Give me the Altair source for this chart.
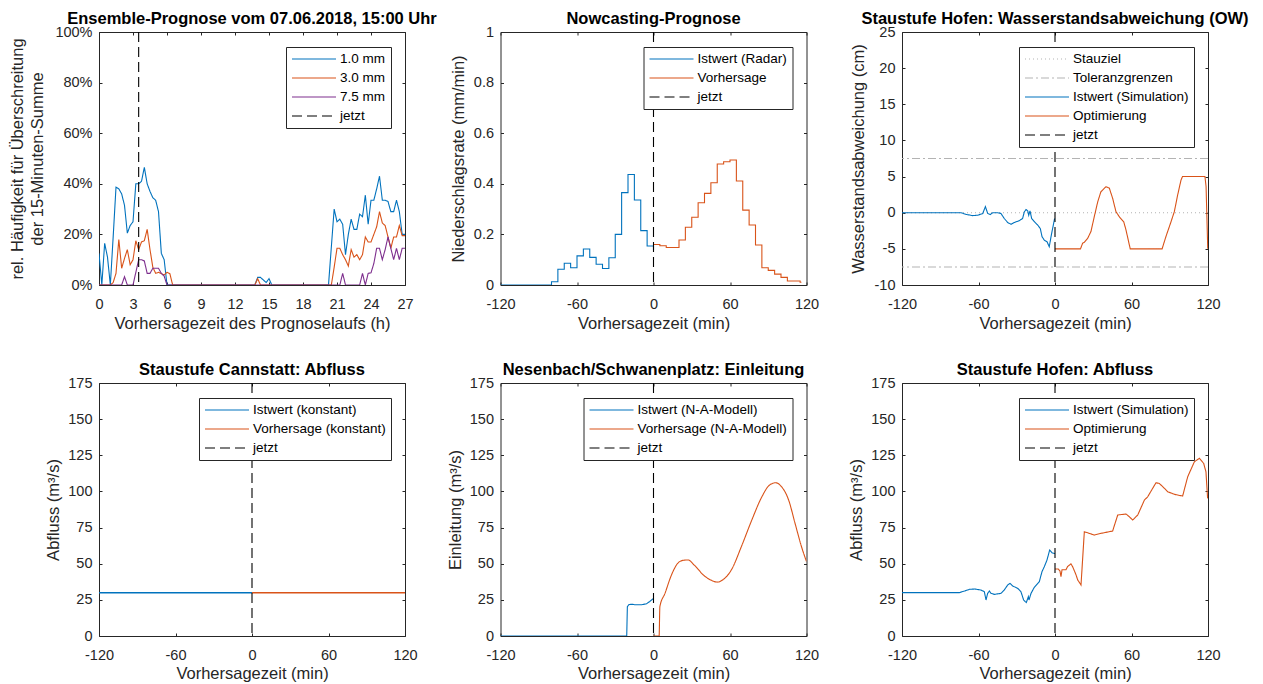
import altair as alt
import pandas as pd

FONT = "Liberation Sans"
AX = "#262626"
BLUE = "#0072BD"
ORANGE = "#D95319"
PURPLE = "#7E2F8E"
BLACK = "#000000"
GRAY = "#B3B3B3"

W, H = 306, 253

SOLID = [1, 0]
DASH = [10, 5]
DOT = [1, 3]
DASHDOT = [8, 3, 2, 3]

# ---------------- Panel 1: Ensemble-Prognose ----------------
p1_t_10 = [0, 0.25, 0.5, 0.75, 1, 1.25, 1.5, 1.75, 2, 2.25, 2.5, 2.75, 3, 3.25, 3.5, 3.75, 4, 4.25, 4.5, 4.75,
           5, 5.25, 5.5, 5.75, 6, 13.75, 14, 14.25, 14.5, 14.75, 15, 15.25,
           20.25, 20.5, 20.75, 21, 21.25, 21.5, 21.75, 22, 22.25, 22.5, 22.75, 23, 23.25, 23.5, 23.75, 24,
           24.25, 24.5, 24.75, 25, 25.25, 25.5, 25.75, 26, 26.25, 26.5, 26.75, 27]
p1_v_10 = [12.5, 0, 16.5, 11, 0, 19, 38.7, 38, 36, 31.5, 20.5, 23.5, 25, 40, 40, 41, 46.5, 40, 37, 34.5,
           33.5, 29, 12.5, 10, 0, 0, 3, 3, 2, 1, 2.5, 0,
           0, 15, 30, 25, 26, 24, 12, 20, 26, 22, 22, 28, 27, 35.5, 24, 33.5,
           33.5, 38, 43, 33.5, 33.5, 33, 29, 29, 33.5, 29, 20, 20]
p1_t_30 = [0, 1, 1.25, 1.5, 1.75, 2, 2.25, 2.5, 2.75, 3, 3.25, 3.5, 3.75, 4, 4.25, 4.5, 4.75, 5, 5.25, 5.5,
           5.75, 6, 6.25, 6.5, 13.75, 14, 14.25,
           20.5, 20.75, 21, 21.25, 21.5, 21.75, 22, 22.25, 22.5, 22.75, 23, 23.25, 23.5, 23.75, 24, 24.25,
           24.5, 24.75, 25, 25.25, 25.5, 25.75, 26, 26.25, 26.5, 26.75, 27]
p1_v_30 = [0, 0, 1, 4.6, 18, 6.6, 10.5, 14, 8, 10, 17.5, 14, 17, 17.5, 22, 14, 7, 4.6, 5, 4.5,
           4, 5, 4.5, 0, 0, 2.5, 0,
           0, 7, 14.5, 14.5, 12, 10, 7.5, 14, 11, 12, 10, 12, 19, 17, 17, 20,
           23, 29, 24.5, 23.5, 19, 14.5, 19, 19, 23.5, 19.5, 19.5]
p1_t_75 = [0, 2, 2.25, 2.5, 3, 3.25, 3.5, 3.75, 4, 4.25, 4.5, 4.75, 5, 5.25, 5.5, 5.75, 6,
           21.25, 21.5, 21.75, 23, 23.25, 23.5, 23.75, 24, 24.25, 24.5, 24.75, 25, 25.25, 25.5, 25.75,
           26, 26.25, 26.5, 26.75, 27]
p1_v_75 = [0, 0, 3.3, 0, 0, 5, 10, 10, 9.5, 4.6, 4.6, 6.6, 6.6, 6.6, 4.6, 3.5, 0,
           0, 4.6, 0, 0, 4.6, 0, 4.6, 4.8, 8.5, 14.5, 14.5, 10, 14, 19, 14.5,
           10, 14.5, 10, 14.5, 14.5]
p1_now = 3.5
p1_series = ["1.0 mm", "3.0 mm", "7.5 mm", "jetzt"]

# ---------------- Panel 2: Nowcasting ----------------
p2_t_ist = [-120, -80, -75, -70, -65, -60, -55, -50, -45, -40, -35, -30, -25, -20, -15, -10, -5, 0]
p2_v_ist = [0, 0.013, 0.062, 0.086, 0.068, 0.115, 0.142, 0.109, 0.082, 0.065, 0.108, 0.2, 0.365,
            0.437, 0.336, 0.215, 0.154, 0.138]
p2_t_vor = [0, 5, 10, 15, 20, 25, 30, 35, 40, 45, 50, 55, 60, 65, 70, 75, 80, 85, 90, 95, 100, 105,
            110, 115, 116]
p2_v_vor = [0.16, 0.155, 0.148, 0.148, 0.178, 0.228, 0.268, 0.325, 0.362, 0.404, 0.478, 0.487, 0.494,
            0.411, 0.296, 0.237, 0.158, 0.068, 0.058, 0.043, 0.03, 0.016, 0.016, 0.011, 0.011]
p2_series = ["Istwert (Radar)", "Vorhersage", "jetzt"]

# ---------------- Panel 3: Wasserstandsabweichung ----------------
p3_t_ist = [-120, -73.7, -69.8, -64.6, -60.7, -56.7, -54.6, -52.8, -50.7, -48.9, -45, -42.4, -39.8,
            -37.1, -34.5, -31.9, -28, -25.4, -24.1, -22.7, -21.4, -20.6, -19.6, -18.3, -16.2, -13.6,
            -11.5, -10.2, -8.4, -6.3, -4.5, -3.1, -1.6, -0.3]
p3_v_ist = [0, 0, -0.23, -0.4, -0.35, -0.12, 0.85, -0.1, -0.25, 0, 0, -0.1, -0.8,
            -1.35, -1.6, -1.35, -1.1, -0.8, 0.1, 0.45, 0.25, -0.35, 0.25, -0.8, -1.25, -1.7,
            -2.2, -3.3, -3.8, -4.0, -4.7, -3.3, -1.95, -0.8]
p3_t_opt = [0, 20, 21.7, 23, 25.6, 28.2, 30.8, 33.5, 36, 40, 42.6, 45.2, 47.8, 50.4, 53.9, 55.7, 59,
            84, 87, 91, 93.6, 96.2, 98.8, 100, 117.6, 118.5, 119.8]
p3_v_opt = [-5, -5, -4.2, -4.1, -3.55, -2.6, -0.55, 1.5, 2.9, 3.6, 3.4, 2.0, 0.15, -0.55, -1.25, -2.4, -5,
            -5, -3.3, -1.25, 0.15, 2.45, 4.5, 5, 5, 3.6, -5]
p3_stauziel = [0]
p3_toleranz = [7.5, -7.5]
p3_series = ["Stauziel", "Toleranzgrenzen", "Istwert (Simulation)", "Optimierung", "jetzt"]

# ---------------- Panel 4: Cannstatt Abfluss ----------------
p4_t_ist = [-120, -60, 0]
p4_v_ist = [30, 30, 30]
p4_t_vor = [0, 60, 120]
p4_v_vor = [30, 30, 30]
p4_series = ["Istwert (konstant)", "Vorhersage (konstant)", "jetzt"]

# ---------------- Panel 5: Nesenbach Einleitung ----------------
p5_t_ist = [-120, -21, -20.5, -19.3, -17, -14.6, -9.4, -5.5, -2.9, 0]
p5_v_ist = [0, 0, 20.3, 21.7, 22, 21.6, 21.6, 22.3, 23.9, 26]
p5_t_vor = [0, 4.4, 5, 9, 14, 19, 23, 27, 32, 40, 45, 50, 55, 61, 69, 77, 85, 91, 96, 100, 106, 111,
            116, 120]
p5_v_vor = [0, 0, 20.3, 29.5, 42, 50.3, 52.3, 52.6, 49, 41.5, 38.7, 37.3, 39.3, 45.6, 62, 80, 96.3,
            104.4, 106, 103.7, 94, 78, 62, 51.5]
p5_series = ["Istwert (N-A-Modell)", "Vorhersage (N-A-Modell)", "jetzt"]

# ---------------- Panel 6: Hofen Abfluss ----------------
p6_t_ist = [-120, -75, -71, -67, -63, -58, -55.4, -54.1, -52.8, -51.5, -50.2, -47.6, -42.4, -39.8,
            -37.1, -35.3, -33.2, -29.3, -26.7, -24.6, -22.5, -20.9, -20.4, -18.8, -16.2, -12.3, -10.2,
            -8.4, -6.3, -4.2, -2.4, -0.5, 0]
p6_v_ist = [30, 30, 31.1, 32.3, 32.5, 31.8, 30.6, 24.9, 29.5, 31.1, 29.5, 28.8, 29.5, 31.8,
            35.3, 36.4, 34.6, 33, 30.6, 24.9, 23.1, 27.2, 24.9, 29.5, 33.7, 37.6, 44.5,
            47.9, 52.5, 59.4, 57.6, 57.1, 57.1]
p6_t_opt = [0, 2.6, 3.9, 4.7, 5.5, 8.6, 9.9, 12.5, 13.8, 16.5, 17.8, 20.4, 23, 25.6, 30.8, 36.1, 45.2,
            49.2, 55.7, 58.3, 60.9, 64.9, 70.1, 72.7, 79.2, 81.8, 84.5, 88.4, 93.6, 100.1, 104.1, 109.3,
            113.2, 116.6, 118.4, 119.7]
p6_v_opt = [46.3, 46.3, 45, 41, 45.8, 45.8, 48.1, 49.9, 48, 42.3, 38.8, 35.3, 72.1, 71.4, 69.8, 71, 72.6,
            83.7, 84.4, 82.5, 80.2, 83.7, 94, 96.3, 106, 105.5, 103.3, 99.8, 98, 96.8, 110.2, 120.5,
            122.9, 119.4, 113.6, 95.2]
p6_series = ["Istwert (Simulation)", "Optimierung", "jetzt"]

# ticks
x_h_ticks = [0, 3, 6, 9, 12, 15, 18, 21, 24, 27]
x_min_ticks = [-120, -60, 0, 60, 120]
y_pct_ticks = [0, 20, 40, 60, 80, 100]
y_rate_ticks = [0, 0.2, 0.4, 0.6, 0.8, 1]
y_cm_ticks = [-10, -5, 0, 5, 10, 15, 20, 25]
y_q_ticks = [0, 25, 50, 75, 100, 125, 150, 175]


def legend_enc(domain, colors, dashes):
    leg = alt.Legend(title=None, orient="top-right", offset=14.5, symbolType="stroke",
                     symbolSize=1936, symbolStrokeWidth=1.2, clipHeight=14, rowPadding=5,
                     labelOffset=3, padding=5, labelFontSize=13.5, labelColor="#000000",
                     labelFont=FONT, strokeColor=AX, fillColor="#FFFFFF", labelLimit=400)
    c = alt.Color("s:N", scale=alt.Scale(domain=domain, range=colors), legend=leg)
    d = alt.StrokeDash("s:N", scale=alt.Scale(domain=domain, range=dashes), legend=leg)
    return c, d


def axes(xdom, xvals, xtitle, xty, ydom, yvals, ytitle, ytx, ylabexpr="datum.value + ''"):
    xs = alt.Scale(domain=xdom, nice=False, zero=False)
    ys = alt.Scale(domain=ydom, nice=False, zero=False)
    xm = alt.X("t:Q", scale=xs, axis=alt.Axis(orient="bottom", values=xvals, title=xtitle,
                                              labelExpr="datum.value + ''", titleX=W / 2, titleY=xty,
                                              titleBaseline="middle", titleAlign="center"))
    ym = alt.Y("v:Q", scale=ys, axis=alt.Axis(orient="left", values=yvals, title=ytitle,
                                              labelExpr=ylabexpr, titleX=ytx, titleY=H / 2,
                                              titleBaseline="middle", titleAlign="center",
                                              titleAngle=270, titleLineHeight=20))
    xt = alt.X("t:Q", scale=xs, axis=alt.Axis(orient="top", values=xvals, labels=False, title=None))
    yr = alt.Y("v:Q", scale=ys, axis=alt.Axis(orient="right", values=yvals, labels=False, title=None))
    xn = alt.X("t:Q", scale=xs, axis=None)
    yn = alt.Y("v:Q", scale=ys, axis=None)
    return xm, ym, xt, yr, xn, yn


def line(t, v, name, x, y, c, d, interp="linear", sw=1.1):
    df = pd.DataFrame({"t": t, "v": v, "s": [name] * len(t)})
    return alt.Chart(df).mark_line(interpolate=interp, strokeWidth=sw, clip=True).encode(
        x=x, y=y, color=c, strokeDash=d)


def vrule(x0, name, x, c, d):
    df = pd.DataFrame({"t": [x0], "s": [name]})
    return alt.Chart(df).mark_rule(strokeWidth=1.1).encode(x=x, color=c, strokeDash=d)


def hrule(vals, name, y, c, d):
    df = pd.DataFrame({"v": vals, "s": [name] * len(vals)})
    return alt.Chart(df).mark_rule(strokeWidth=1.1).encode(y=y, color=c, strokeDash=d)


def panel(title, layers):
    return alt.layer(*layers).properties(
        width=W, height=H,
        title=alt.TitleParams(text=title, fontSize=16.5, fontWeight="bold", color="#000000",
                              font=FONT, anchor="middle", frame="group", offset=-3))


# Panel 1
c, d = legend_enc(p1_series, [BLUE, ORANGE, PURPLE, BLACK], [SOLID, SOLID, SOLID, DASH])
xm, ym, xt, yr, xn, yn = axes([0, 27], x_h_ticks, "Vorhersagezeit des Prognoselaufs (h)", 41,
                              [0, 100], y_pct_ticks,
                              ["rel. Häufigkeit für Überschreitung", "der 15-Minuten-Summe"], -85,
                              "datum.value + '%'")
pan1 = panel("Ensemble-Prognose vom 07.06.2018, 15:00 Uhr", [
    line(p1_t_10, p1_v_10, p1_series[0], xm, ym, c, d),
    line(p1_t_30, p1_v_30, p1_series[1], xt, yr, c, d),
    line(p1_t_75, p1_v_75, p1_series[2], xn, yn, c, d),
    vrule(p1_now, "jetzt", xn, c, d),
])

# Panel 2
c, d = legend_enc(p2_series, [BLUE, ORANGE, BLACK], [SOLID, SOLID, DASH])
xm, ym, xt, yr, xn, yn = axes([-120, 120], x_min_ticks, "Vorhersagezeit (min)", 41,
                              [0, 1], y_rate_ticks, "Niederschlagsrate (mm/min)", -45)
pan2 = panel("Nowcasting-Prognose", [
    line(p2_t_ist, p2_v_ist, p2_series[0], xm, ym, c, d, interp="step-after"),
    line(p2_t_vor, p2_v_vor, p2_series[1], xt, yr, c, d, interp="step-after"),
    vrule(0, "jetzt", xn, c, d),
])

# Panel 3
c, d = legend_enc(p3_series, [GRAY, GRAY, BLUE, ORANGE, BLACK], [DOT, DASHDOT, SOLID, SOLID, DASH])
xm, ym, xt, yr, xn, yn = axes([-120, 120], x_min_ticks, "Vorhersagezeit (min)", 41,
                              [-10, 25], y_cm_ticks, "Wasserstandsabweichung (cm)", -47)
pan3 = panel("Staustufe Hofen: Wasserstandsabweichung (OW)", [
    hrule(p3_stauziel, "Stauziel", yn, c, d),
    hrule(p3_toleranz, "Toleranzgrenzen", yn, c, d),
    line(p3_t_ist, p3_v_ist, p3_series[2], xm, ym, c, d),
    line(p3_t_opt, p3_v_opt, p3_series[3], xt, yr, c, d),
    vrule(0, "jetzt", xn, c, d),
])

# Panel 4
c, d = legend_enc(p4_series, [BLUE, ORANGE, BLACK], [SOLID, SOLID, DASH])
xm, ym, xt, yr, xn, yn = axes([-120, 120], x_min_ticks, "Vorhersagezeit (min)", 40.5,
                              [0, 175], y_q_ticks, "Abfluss (m³/s)", -49)
pan4 = panel("Staustufe Cannstatt: Abfluss", [
    line(p4_t_ist, p4_v_ist, p4_series[0], xm, ym, c, d, sw=1.5),
    line(p4_t_vor, p4_v_vor, p4_series[1], xt, yr, c, d, sw=1.5),
    vrule(0, "jetzt", xn, c, d),
])

# Panel 5
c, d = legend_enc(p5_series, [BLUE, ORANGE, BLACK], [SOLID, SOLID, DASH])
xm, ym, xt, yr, xn, yn = axes([-120, 120], x_min_ticks, "Vorhersagezeit (min)", 40.5,
                              [0, 175], y_q_ticks, "Einleitung (m³/s)", -48.5)
pan5 = panel("Nesenbach/Schwanenplatz: Einleitung", [
    line(p5_t_ist, p5_v_ist, p5_series[0], xm, ym, c, d),
    line(p5_t_vor, p5_v_vor, p5_series[1], xt, yr, c, d, interp="monotone"),
    vrule(0, "jetzt", xn, c, d),
])

# Panel 6
c, d = legend_enc(p6_series, [BLUE, ORANGE, BLACK], [SOLID, SOLID, DASH])
xm, ym, xt, yr, xn, yn = axes([-120, 120], x_min_ticks, "Vorhersagezeit (min)", 40.5,
                              [0, 175], y_q_ticks, "Abfluss (m³/s)", -49)
pan6 = panel("Staustufe Hofen: Abfluss", [
    line(p6_t_ist, p6_v_ist, p6_series[0], xm, ym, c, d),
    line(p6_t_opt, p6_v_opt, p6_series[1], xt, yr, c, d),
    vrule(0, "jetzt", xn, c, d),
])

chart = alt.concat(
    pan1, pan2, pan3, pan4, pan5, pan6,
    columns=3, spacing={"row": 98, "column": 95.5}, bounds="flush"
).resolve_scale(
    color="independent", strokeDash="independent"
).configure(
    font=FONT, padding={"left": 0, "top": 2, "right": 2, "bottom": 2}
).configure_view(
    stroke=AX, strokeWidth=1
).configure_axis(
    labelFont=FONT, labelFontSize=14.5, labelColor=AX, titleFont=FONT, titleFontSize=16.5,
    titleFontWeight="normal", titleColor=AX, tickColor=AX, tickSize=3, tickWidth=1, offset=-3,
    domain=False, grid=False, labelFlush=False, labelOverlap=False, labelBound=False
).configure_axisX(
    labelPadding=12.5
).configure_axisY(
    labelPadding=7
)

chart.save("out.html", embed_options={"renderer": "svg", "actions": False})
